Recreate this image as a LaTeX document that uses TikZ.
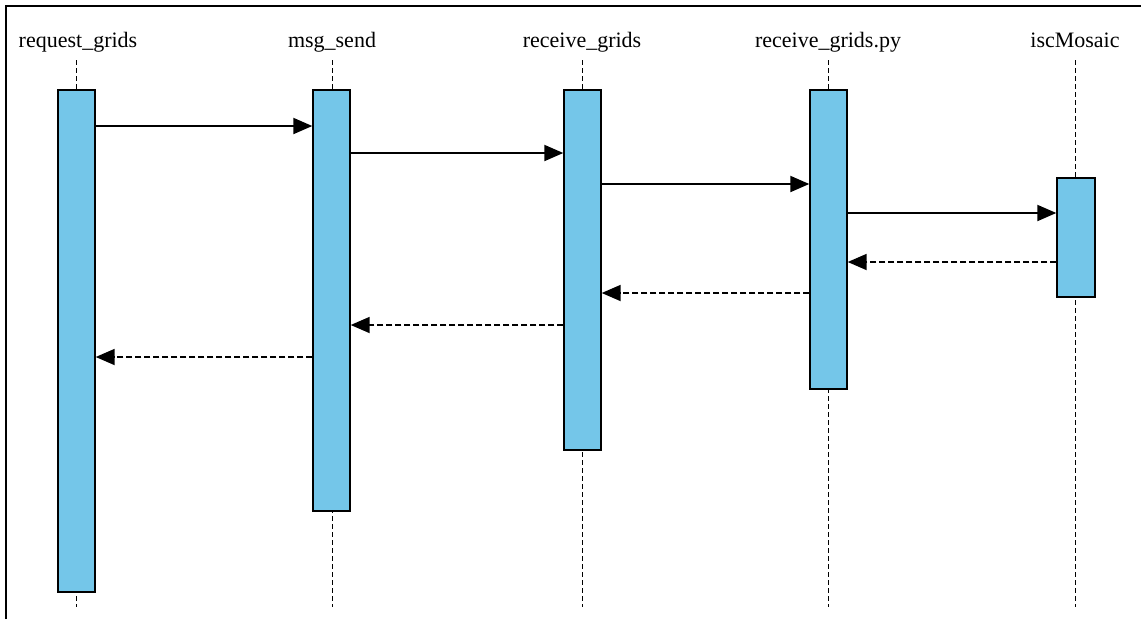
\documentclass[tikz,border=0pt]{standalone}
\usepackage{fontspec}
\setmainfont{Liberation Serif}
\usetikzlibrary{arrows.meta}
\definecolor{actfill}{RGB}{116,198,233}
\begin{document}
\begin{tikzpicture}[x=1pt,y=-1pt,
  lbl/.style={font=\fontsize{22}{24}\selectfont, inner sep=0pt, anchor=base},
  life/.style={line width=0.9pt, dash pattern=on 5pt off 3pt},
  act/.style={draw=black, line width=1.4pt, fill=actfill, inner sep=0pt, minimum width=37pt},
  msg/.style={line width=2pt, -{Triangle[length=19pt,width=16pt]}},
  ret/.style={line width=1.8pt, dash pattern=on 6pt off 3pt, -{Triangle[length=19pt,width=16pt]}}
]
\useasboundingbox (0,0) rectangle (1141,619);
\fill[white] (0,0) rectangle (1141,619);
\draw[line width=2pt] (6,619) -- (6,6) -- (1141,6);

% lifeline labels
\node[lbl] (l1) at (78,47) {request\_grids};
\node[lbl] (l2) at (332,47) {msg\_send};
\node[lbl] (l3) at (582,47) {receive\_grids};
\node[lbl] (l4) at (828,47) {receive\_grids.py};
\node[lbl] (l5) at (1075,47) {iscMosaic};

% lifeline tops and bottoms
\foreach \i/\x in {1/76,2/332,3/582,4/828,5/1075} {
  \coordinate (t\i) at (\x,60);
  \coordinate (b\i) at (\x,607);
  \draw[life] (t\i) -- (b\i);
}

% activation boxes
\node[act, minimum height=502pt] (a1) at (76.5,341) {};
\node[act, minimum height=421pt] (a2) at (331.5,300.5) {};
\node[act, minimum height=360pt] (a3) at (582.5,270) {};
\node[act, minimum height=299pt] (a4) at (828.5,239.5) {};
\node[act, minimum height=119pt, minimum width=38pt] (a5) at (1076,237.5) {};

% calls
\draw[msg] (a1.east |- 0,126) -- (a2.west |- 0,126);
\draw[msg] (a2.east |- 0,153) -- (a3.west |- 0,153);
\draw[msg] (a3.east |- 0,184) -- (a4.west |- 0,184);
\draw[msg] (a4.east |- 0,213) -- (a5.west |- 0,213);

% returns
\draw[ret] (a5.west |- 0,262) -- (a4.east |- 0,262);
\draw[ret] (a4.west |- 0,293) -- (a3.east |- 0,293);
\draw[ret] (a3.west |- 0,325) -- (a2.east |- 0,325);
\draw[ret] (a2.west |- 0,357) -- (a1.east |- 0,357);
\end{tikzpicture}
\end{document}
